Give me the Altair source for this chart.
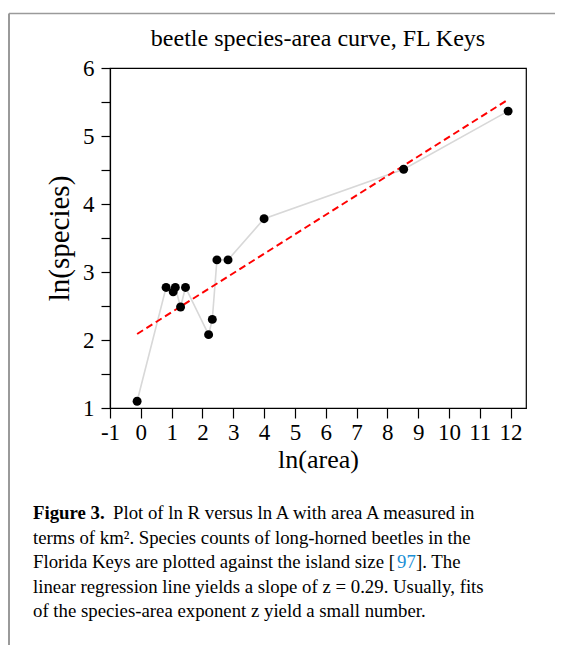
import altair as alt
import pandas as pd

# Data
ln_area = [-0.12, 0.82, 1.05, 1.12, 1.29, 1.45, 2.20, 2.32, 2.47, 2.83, 4.00, 8.53, 11.92]
ln_species = [1.099, 2.773, 2.708, 2.773, 2.485, 2.773, 2.079, 2.303, 3.178, 3.178, 3.784, 4.511, 5.366]
x_ticks = list(range(-1, 13))
y_ticks = [1, 1.5, 2, 2.5, 3, 3.5, 4, 4.5, 5, 5.5, 6]

title_text = "beetle species-area curve, FL Keys"
caption_lines = [
    "terms of km\u00b2. Species counts of long-horned beetles in the",
    "Florida Keys are plotted against the island size [",
    "linear regression line yields a slope of z = 0.29. Usually, fits",
    "of the species-area exponent z yield a small number.",
]

df = pd.DataFrame({"x": ln_area, "y": ln_species})

FONT = "Liberation Serif"
W, H = 416, 340
CAP = 18.8

xs = alt.X("x:Q", scale=alt.Scale(domain=[-1, 12.5], nice=False, zero=False),
           axis=alt.Axis(values=x_ticks, title="ln(area)", labelExpr="'' + datum.value",
                         tickSize=10, labelPadding=3, titlePadding=2, labelFlush=False,
                         labelFontSize=23, titleFontSize=26))
ys = alt.Y("y:Q", scale=alt.Scale(domain=[1, 6], nice=False, zero=False),
           axis=alt.Axis(values=y_ticks, title="ln(species)",
                         labelExpr="datum.value % 1 == 0 ? '' + datum.value : ''",
                         tickSize=9, labelPadding=7, titlePadding=8, labelFlush=False,
                         labelFontSize=23, titleFontSize=29))

base = alt.Chart(df)
line = base.mark_line(color="#d8d8d8", strokeWidth=1.6).encode(x=xs, y=ys, order="x:Q")
reg = base.transform_regression("x", "y").mark_line(
    color="#ff0000", strokeWidth=2, strokeDash=[7, 4]).encode(x=xs, y=ys)
pts = base.mark_circle(color="black", opacity=1, size=80).encode(x=xs, y=ys)

def txt(s, x, y, size=CAP, weight="normal", color="black", align="left"):
    return alt.Chart(pd.DataFrame({"t": [s]})).mark_text(
        font=FONT, fontSize=size, fontWeight=weight, color=color, align=align,
        baseline="alphabetic").encode(text="t:N", x=alt.value(x), y=alt.value(y))

OX, OY = 110, 68
layers = [line, reg, pts]
layers.append(txt(title_text, 208, 46 - OY, size=24, align="center"))
layers.append(txt("Figure 3.", 33 - OX, 519 - OY, weight="bold"))
layers.append(txt("Plot of ln R versus ln A with area A measured in", 113 - OX, 519 - OY))
layers.append(txt(caption_lines[0], 33 - OX, 544 - OY))
layers.append(txt(caption_lines[1], 33 - OX, 568 - OY))
layers.append(txt("97", 397 - OX, 568 - OY, color="#1a8fd6"))
layers.append(txt("]. The", 416 - OX, 568 - OY))
layers.append(txt(caption_lines[2], 33 - OX, 593 - OY))
layers.append(txt(caption_lines[3], 33 - OX, 617 - OY))

frame = alt.Chart(pd.DataFrame({"a": [0]})).mark_rule(color="#9a9a9a", strokeWidth=1.5).encode(
    x=alt.value(9 - OX), x2=alt.value(563 - OX), y=alt.value(13.5 - OY))
frame2 = alt.Chart(pd.DataFrame({"a": [0]})).mark_rule(color="#9a9a9a", strokeWidth=2).encode(
    x=alt.value(9 - OX), y=alt.value(13.5 - OY), y2=alt.value(653 - OY))
layers += [frame, frame2]

chart = alt.layer(*layers).properties(
    width=W, height=H,
    autosize=alt.AutoSizeParams(type="none"),
    padding={"left": 102, "top": 60, "right": 29, "bottom": 237},
).configure_view(stroke="black", strokeWidth=1.2).configure_axis(
    labelFont=FONT, titleFont=FONT, labelColor="black", titleColor="black",
    domainColor="black", tickColor="black", grid=False, titleFontWeight="normal",
    domainWidth=1.2, tickWidth=1.2,
)

chart.save("out.html", embed_options={"renderer": "svg", "actions": False})
